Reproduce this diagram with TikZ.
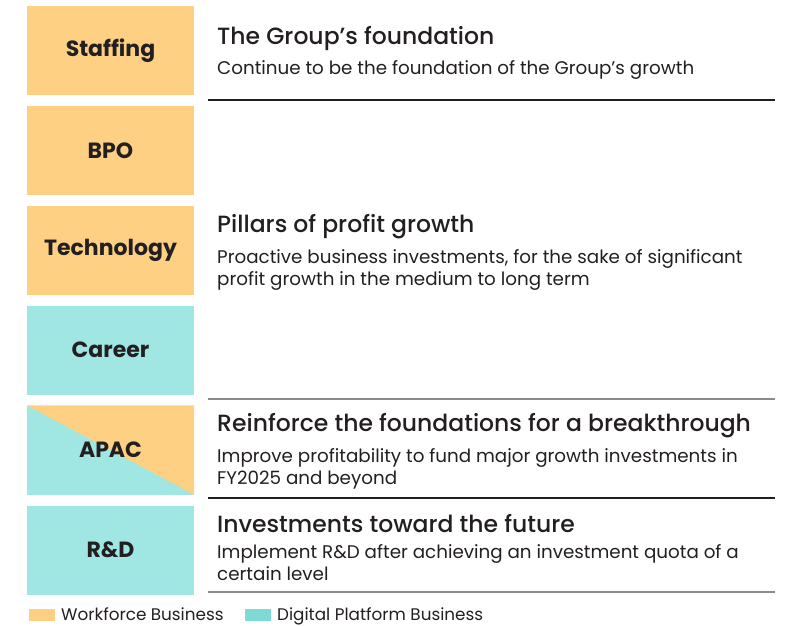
\documentclass[tikz,border=0pt]{standalone}
\usepackage{fontspec}
\setmainfont{Poppins}
\newfontfamily\medfont{Poppins Medium}
\usetikzlibrary{positioning}
\definecolor{workforce}{HTML}{FDD083}
\definecolor{digital}{HTML}{A0E6E2}
\definecolor{digitalkey}{HTML}{7FDAD5}
\definecolor{ink}{HTML}{231F20}
\definecolor{rulegray}{HTML}{8C8A8A}

\begin{document}
\begin{tikzpicture}[x=1pt,y=-1pt,
    unit/.style={minimum width=167pt, minimum height=89pt, inner sep=0pt, text=ink, font=\bfseries\fontsize{22}{22}\selectfont},
    heading/.style={anchor=base west, inner sep=0pt, text=ink, font=\medfont\fontsize{23.5}{23.5}\selectfont},
    detail/.style={anchor=base west, inner sep=0pt, align=left, text=ink, font=\fontsize{18.3}{22}\selectfont},
    keybox/.style={minimum width=26pt, minimum height=12pt, inner sep=0pt},
    keytext/.style={anchor=base west, inner sep=0pt, text=ink, font=\fontsize{16.8}{16.8}\selectfont}]
    \useasboundingbox (0,0) rectangle (785,625); % Fix the page size

    % Business boxes on the left
    \node[unit, fill=workforce] (staffing) at (110.5,50.5) {Staffing};
    \node[unit, fill=workforce, below=10.5pt of staffing] (bpo) {BPO};
    \node[unit, fill=workforce, below=10.5pt of bpo] (technology) {Technology};
    \node[unit, fill=digital, below=10.5pt of technology] (career) {Career};
    \node[unit, fill=digital, below=10.5pt of career] (apac) {};
    \fill[workforce] (apac.north west) -- (apac.north east) -- (apac.south east) -- cycle; % Half of APAC
    \node[unit] (apaclabel) at (apac) {APAC};
    \node[unit, fill=digital, below=10.5pt of apac] (rnd) {R\&D};

    % Rules between the blocks
    \draw[ink, line width=1.2pt] (208,100) -- (775,100);
    \draw[rulegray, line width=1.2pt] (208,399) -- (775,399);
    \draw[ink, line width=1.2pt] (208,498) -- (775,498);
    \draw[rulegray, line width=1.2pt] (208,592) -- (775,592);

    % Headings and texts (a text of two lines sits on its last line)
    \node[heading] (foundation) at (217,44) {The Group’s foundation};
    \node[detail] (foundationtxt) at (217,74) {Continue to be the foundation of the Group’s growth};
    \node[heading] (pillars) at (217,232) {Pillars of profit growth};
    \node[detail] (pillarstxt) at (217,285) {Proactive business investments, for the sake of significant\\profit growth in the medium to long term};
    \node[heading] (reinforce) at (217,431) {Reinforce the foundations for a breakthrough};
    \node[detail] (reinforcetxt) at (217,484) {Improve profitability to fund major growth investments in\\FY2025 and beyond};
    \node[heading] (future) at (217,532) {Investments toward the future};
    \node[detail] (futuretxt) at (217,580) {Implement R\&D after achieving an investment quota of a\\certain level};

    % Legend
    \node[keybox, fill=workforce] (workforcekey) at (42,614.5) {};
    \node[keytext] (workforcename) at (61,620) {Workforce Business};
    \node[keybox, fill=digitalkey] (digitalkeybox) at (257.5,614.5) {};
    \node[keytext] (digitalname) at (277,620) {Digital Platform Business};
\end{tikzpicture}
\end{document}
